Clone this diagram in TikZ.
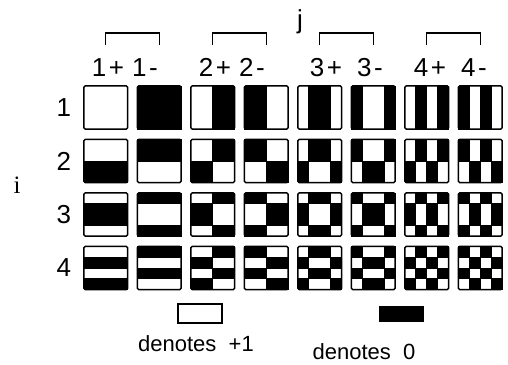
\documentclass[tikz,border=0pt]{standalone}
\usepackage{fontspec}
\setmainfont{Liberation Sans}
\newfontfamily\seriffont{Liberation Serif}
\usetikzlibrary{calc}
\begin{document}
\begin{tikzpicture}[x=1pt,y=-1pt,
  cellbox/.style={rectangle,minimum width=43.5pt,minimum height=43pt,inner sep=0pt,draw=none},
  border/.style={draw=black,line width=1.5pt,rounded corners=1.5pt},
  blk/.style={fill=black,draw=black,line width=0.4pt},
  lab/.style={font=\fontsize{26}{26}\selectfont,inner sep=0pt,anchor=base},
  bracket/.style={draw=black,line width=1.2pt},
  legtext/.style={font=\fontsize{22}{22}\selectfont,inner sep=0pt,anchor=base}]
\useasboundingbox (0,0) rectangle (508,364);
\def\W{{1,1,1,1,1,1,-1,-1,1,-1,-1,1,1,-1,1,-1}}
\foreach \r in {0,...,3}{
  \foreach \k in {0,...,7}{
    \pgfmathsetmacro\cx{84+53.5*\k+21.75}
    \pgfmathsetmacro\cy{86+53.5*\r+21.5}
    \pgfmathtruncatemacro\jj{int(\k/2)}
    \pgfmathtruncatemacro\sg{mod(\k,2)==0?1:-1}
    \node[cellbox] (c\r\k) at (\cx,\cy) {};
    \foreach \qx in {0,...,3}{
      \foreach \qy in {0,...,3}{
        \pgfmathtruncatemacro\v{\sg*\W[4*\jj+\qx]*\W[4*\r+\qy]}
        \ifnum\v<0
          \path[blk] ($(c\r\k.north west)+({\qx*10.875},{\qy*10.75})$) rectangle ++(10.875,10.75);
        \fi
      }
    }
    \path[border] (c\r\k.north west) rectangle (c\r\k.south east);
  }
}
% row labels
\foreach \r/\t in {0/1,1/2,2/3,3/4}{
  \node[lab,anchor=center] (r\t) at ($(c\r0.west)+(-20,0)$) {\t};
}
\node[font=\seriffont\fontsize{25}{25}\selectfont,inner sep=0pt] (ilab) at (17,185) {i};
\node[lab,anchor=center] (jlab) at (300,22) {j};
% column labels
\foreach \n/\x/\t in {a/108/1\kern2.5pt+,b/145/1\kern2.5pt-,c/215/2\kern2.5pt+,d/252/2\kern2.5pt-,e/326/3\kern2.5pt+,f/370/3\kern2.5pt-,g/430/4\kern2.5pt+,h/474/4\kern2.5pt-}{
  \node[lab] (col\n) at (\x,76) {\t};
}
% brackets
\coordinate (ytop) at (0,33);
\coordinate (ybot) at (0,45);
\foreach \a/\b in {0/1,2/3,4/5,6/7}{
  \draw[bracket] (c0\a |- ybot) -- (c0\a |- ytop) -- (c0\b |- ytop) -- (c0\b |- ybot);
}
% legend
\node[rectangle,draw=black,line width=1.2pt,fill=white,minimum width=44pt,minimum height=19pt,inner sep=0pt] (wbox) at (200,313.5) {};
\node[rectangle,fill=black,minimum width=45pt,minimum height=16pt,inner sep=0pt] (bbox) at (401.5,314) {};
\node[legtext] (wtext) at (196,351) {denotes\ \ +1};
\node[legtext] (btext) at (364,359) {denotes\ \ 0};
\end{tikzpicture}
\end{document}
